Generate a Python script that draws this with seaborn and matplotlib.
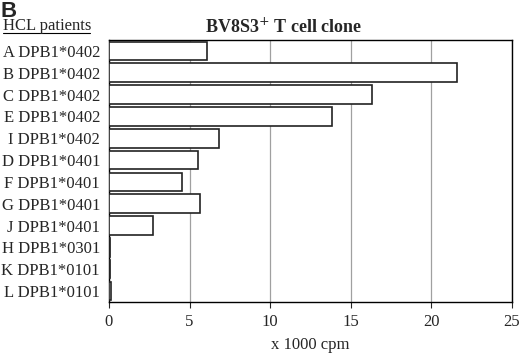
import numpy as np
import matplotlib.pyplot as plt
import seaborn as sns
import pandas as pd
from matplotlib.lines import Line2D

sns.set_style('white')
plt.rcParams['font.family'] = ['Liberation Serif', 'DejaVu Serif']

patients = ['A DPB1*0402', 'B DPB1*0402', 'C DPB1*0402', 'E DPB1*0402', 'I DPB1*0402',
            'D DPB1*0401', 'F DPB1*0401', 'G DPB1*0401', 'J DPB1*0401',
            'H DPB1*0301', 'K DPB1*0101', 'L DPB1*0101']
cpm = [6.1, 21.6, 16.3, 13.85, 6.8, 5.55, 4.5, 5.65, 2.7, 0.05, 0.08, 0.1]

df = pd.DataFrame({'patient': patients, 'cpm': cpm})

fig = plt.figure(figsize=(5.2, 3.54), dpi=100)
ax = fig.add_axes([0.2096, 0.147, 0.775, 0.74])

sns.barplot(data=df, x='cpm', y='patient', orient='h', color='white',
            edgecolor='#222222', linewidth=1.2, width=0.85, ax=ax, zorder=3)

ax.set_xlim(0, 25)
ax.set_xticks([0, 5, 10, 15, 20, 25])
ax.xaxis.grid(True, color='#a0a0a0', linewidth=0.9, zorder=0)
ax.set_axisbelow(True)
for s in ax.spines.values():
    s.set_color('black')
    s.set_linewidth(1.0)
ax.tick_params(axis='x', bottom=True, length=4, width=0.8, labelsize=12, pad=5)
ax.tick_params(axis='y', left=False, labelsize=12, pad=3)
ax.set_ylabel('')
ax.set_xlabel('x 1000 cpm', fontsize=12, labelpad=5)

fig.text(0.394, 0.908, 'BV8S3$^{+}$ T cell clone', fontsize=13, fontweight='bold',
         ha='left', va='baseline')

fig.text(0.0, 0.953, 'B', fontsize=16, fontweight='bold', family='Liberation Sans',
         ha='left', va='baseline')
fig.text(0.005, 0.914, 'HCL patients', fontsize=12, ha='left', va='baseline')
fig.add_artist(Line2D([0.005, 0.173], [0.907, 0.907], color='black', linewidth=0.8))

fig.savefig('out.png', dpi=100)
